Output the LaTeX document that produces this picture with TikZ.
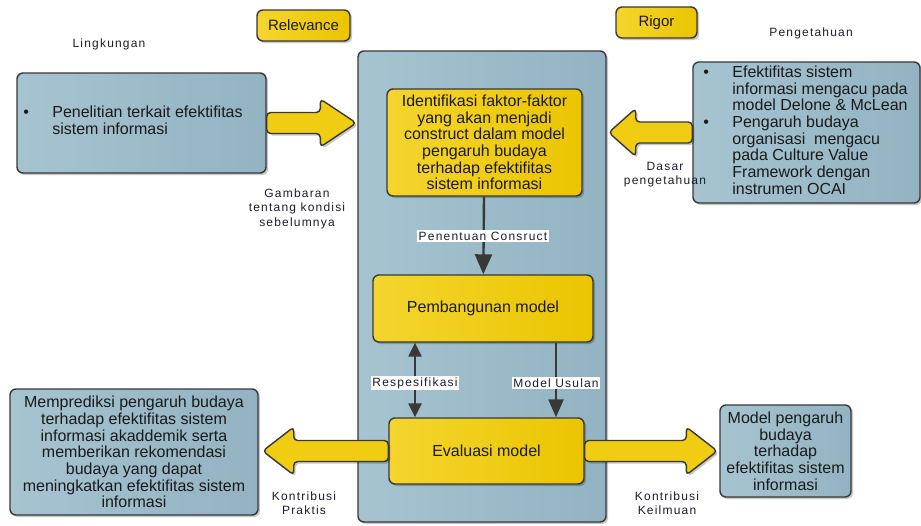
\documentclass[tikz,border=0pt]{standalone}
\usepackage{fontspec}
\setmainfont{Liberation Sans}
\newfontfamily\lblfont[LetterSpace=10]{Liberation Sans}
\usetikzlibrary{arrows.meta,calc,shadows}
\definecolor{boxblueL}{HTML}{A6C4D0}
\definecolor{boxblueD}{HTML}{93B3C3}
\definecolor{boxyel}{HTML}{F0CC12}
\definecolor{boxyelL}{HTML}{F4D52E}
\definecolor{boxyelD}{HTML}{EBC500}
\definecolor{edge}{HTML}{383838}
\definecolor{lbl}{HTML}{1C1C30}
\definecolor{txt}{HTML}{1A1A1A}
\tikzset{
  shd/.style={drop shadow={shadow xshift=2pt,shadow yshift=-2pt,opacity=0.22,fill=black}},
  bluebox/.style={shd,draw=edge,line width=1.4pt,rounded corners=6pt,left color=boxblueL,right color=boxblueD,
     inner sep=0pt,text=txt,font=\fontsize{16}{16.7}\selectfont},
  yelbox/.style={shd,draw=edge,line width=1.4pt,rounded corners=6pt,left color=boxyelL,right color=boxyelD,
     inner sep=0pt,text=txt,font=\fontsize{16}{16.7}\selectfont,align=center},
  tag/.style={text=lbl,font=\lblfont\fontsize{12}{14.5}\selectfont,align=center,inner sep=1pt},
  wtag/.style={tag,fill=white,inner sep=1.5pt},
  yarrow/.style={draw=edge,line width=1.4pt,fill=boxyel,rounded corners=4pt,shd},
  flow/.style={draw=edge,line width=2.4pt},
}
% horizontal block arrow: start, tip, direction (1 right, -1 left), head length
\newcommand\blockarrow[4]{%
  \draw[yarrow] ($(#1)+(0,10.5)$) -- ($(#2)+(-#3*#4,10.5)$) -- ($(#2)+(-#3*#4,24)$)
    -- (#2) -- ($(#2)+(-#3*#4,-24)$) -- ($(#2)+(-#3*#4,-10.5)$) -- ($(#1)+(0,-10.5)$) -- cycle;}
\begin{document}
\begin{tikzpicture}[x=1pt,y=-1pt]
\useasboundingbox (0,0) rectangle (921,525);

% top tags
\node[yelbox,minimum width=93pt,minimum height=31pt,font=\fontsize{15}{16}\selectfont] (rel) at (303.5,25.5) {Relevance};
\node[yelbox,minimum width=81pt,minimum height=31pt,font=\fontsize{15}{16}\selectfont] (rig) at (656.5,22.5) {Rigor};
\node[tag] (ling) at (109,44) {Lingkungan};
\node[tag] (peng) at (811,33) {Pengetahuan};

% central frame
\node[bluebox,minimum width=248pt,minimum height=471pt] (big) at (482,286.5) {};

% left environment box
\node[bluebox,minimum width=249pt,minimum height=100pt] (pen) at (141.5,123) {%
  \begin{tabular}{@{}p{29pt}@{}l@{}}
  \textbullet & \begin{tabular}[t]{@{}l@{}}Penelitian terkait efektifitas\\sistem informasi\end{tabular}
  \end{tabular}\hspace*{17pt}};

% right knowledge box
\node[bluebox,minimum width=227pt,minimum height=141pt] (kb) at (806.5,132.5) {%
  \begin{tabular}{@{}p{29pt}@{}l@{}}
  \textbullet & Efektifitas sistem\\
   & informasi mengacu pada\\
   & model Delone \& McLean\\
  \textbullet & Pengaruh budaya\\
   & organisasi\ \ mengacu\\
   & pada Culture Value\\
   & Framework dengan\\
   & instrumen OCAI
  \end{tabular}\hspace*{2pt}};

% inner boxes
\node[yelbox,minimum width=195pt,minimum height=107pt] (ident) at (484.5,142.5)
  {Identifikasi faktor-faktor\\yang akan menjadi\\construct dalam model\\pengaruh budaya\\terhadap efektifitas\\sistem informasi};
\node[yelbox,minimum width=220pt,minimum height=67pt] (pemb) at (483,308.5) {Pembangunan model};
\node[yelbox,minimum width=195pt,minimum height=66pt] (eval) at (486.5,451) {Evaluasi model};

% bottom boxes
\node[bluebox,minimum width=248pt,minimum height=126pt,align=center] (pred) at (134,452)
  {Memprediksi pengaruh budaya\\terhadap efektifitas sistem\\informasi akaddemik serta\\memberikan rekomendasi\\budaya yang dapat\\meningkatkan efektifitas sistem\\informasi};
\node[bluebox,minimum width=131pt,minimum height=92pt,align=center] (mod) at (785.5,451)
  {Model pengaruh\\budaya\\terhadap\\efektifitas sistem\\informasi};

% internal flows
\coordinate (rx) at (415,0);
\coordinate (ux) at (556,0);
\draw[flow,-{Triangle[width=17pt,length=20pt]}] (ident) -- (pemb);
\draw[flow,{Triangle[width=13pt,length=14pt]}-{Triangle[width=13pt,length=14pt]}] (pemb.south -| rx) -- (eval.north -| rx);
\draw[flow,-{Triangle[width=15pt,length=18pt]}] (pemb.south -| ux) -- (eval.north -| ux);
\node[wtag] (t1) at (483,236) {Penentuan Consruct};
\node[wtag] (t2) at (415,383) {Respesifikasi};
\node[wtag] (t3) at (556,383) {Model Usulan};

% block arrows
\coordinate (a1) at ($(pen.east -| big.west)+(-1,0)$);
\blockarrow{pen.east}{a1}{1}{36}
\coordinate (a2) at ($(kb.west -| big.east)+(2,0)$);
\blockarrow{kb.west}{a2}{-1}{27}
\coordinate (a3) at ($(eval.west -| pred.east)+(4,0)$);
\blockarrow{eval.west}{a3}{-1}{31}
\coordinate (a4) at ($(eval.east -| mod.west)+(-2,0)$);
\blockarrow{eval.east}{a4}{1}{31}

% arrow labels
\node[tag] (l1) at (297,208.5) {Gambaran\\tentang kondisi\\sebelumnya};
\node[tag] (l2) at (665,174.5) {Dasar\\pengetahuan};
\node[tag] (l3) at (304,503) {Kontribusi\\Praktis};
\node[tag] (l4) at (667,503) {Kontribusi\\Keilmuan};
\end{tikzpicture}
\end{document}
